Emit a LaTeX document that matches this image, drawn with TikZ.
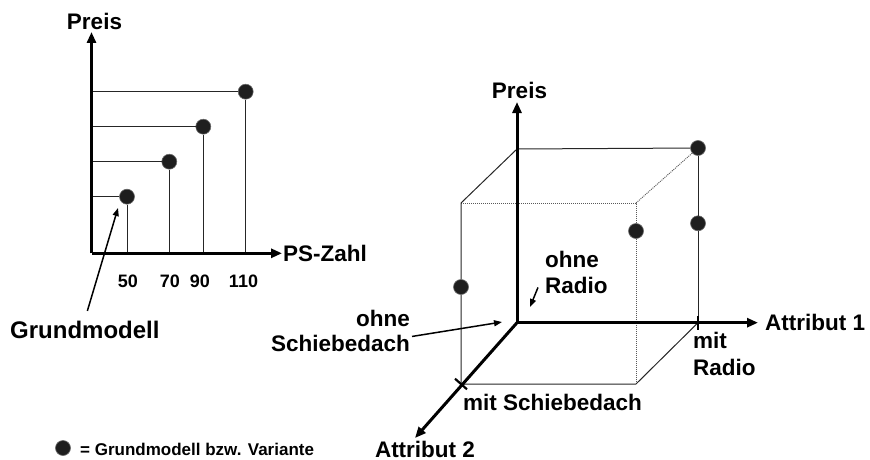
\documentclass[tikz,border=0pt]{standalone}
\usepackage{fontspec}
\setmainfont{Liberation Sans}
\usetikzlibrary{arrows.meta}
\definecolor{dotfill}{HTML}{1E1E1E}
\begin{document}
\begin{tikzpicture}[x=1pt,y=-1pt,
  lbl/.style={font=\fontsize{22.5}{26.5}\selectfont\bfseries, inner sep=0pt},
  ticklbl/.style={font=\fontsize{18}{22}\selectfont\bfseries, inner sep=0pt, anchor=base},
  legendlbl/.style={font=\fontsize{17}{20}\selectfont\bfseries, inner sep=0pt, anchor=base west},
  thinline/.style={line width=1pt, draw=black!85},
  dotline/.style={line width=0.9pt, draw=black!65, dash pattern=on 1pt off 1pt},
  axisline/.style={line width=3pt, draw=black, -{Triangle[length=11pt,width=9pt]}},
  tickmark/.style={line width=2.2pt},
  annot/.style={line width=1.5pt, -{Triangle[length=8pt,width=6pt]}},
  dot/.style={circle, fill=dotfill, draw=black!60, line width=0.6pt, minimum size=15pt, inner sep=0pt},
]
\useasboundingbox (0,0) rectangle (870,460);

% ---------------- left chart ----------------
\coordinate (O1) at (91.5,253.3);
\coordinate (Y1) at (91.5,32);
\coordinate (X1) at (282,253.3);
\node[dot] (p50) at (127,196.7) {};
\node[dot] (p70) at (169.3,161.7) {};
\node[dot] (p90) at (203.3,126.7) {};
\node[dot] (p110) at (245.7,91.7) {};
\foreach \p in {p50,p70,p90,p110}{
  \draw[thinline] (\p -| O1) -- (\p);
  \draw[thinline] (\p) -- (\p |- O1);
}
\draw[axisline] (O1) -- (Y1);
\draw[axisline] (O1) -- (X1);

\node[lbl, anchor=base] (preisL) at (94.5,29.5) {Preis};
\node[lbl, anchor=base west] (pszahl) at (283,261) {PS-Zahl};
\node[ticklbl] (t50) at (128,287) {50};
\node[ticklbl] (t70) at (170,287) {70};
\node[ticklbl] (t90) at (200,287) {90};
\node[ticklbl] (t110) at (243.5,287) {110};
\node[lbl, font=\fontsize{24}{28}\selectfont\bfseries, anchor=base west] (gm) at (10,338) {Grundmodell};
\coordinate (gmtip) at (118,208);
\draw[annot] ([shift={(2.5,-9.5)}]gm.north) -- (gmtip);

% ---------------- cube ----------------
\coordinate (O2) at (517,322.7);
\coordinate (P2) at (517,102);
\coordinate (A1) at (758,322.7);
\coordinate (A2) at (415,438);
\coordinate (BTL) at (517,149);
\coordinate (FTL) at (461,203);
\coordinate (FTR) at (636,203);
\coordinate (FBL) at (461,384);
\coordinate (FBR) at (636,384);
\coordinate (BBR) at (698,322.7);
\node[dot] (dTR) at (698,148) {};
\node[dot] (dR2) at (698,223.3) {};
\node[dot] (dF) at (636,231) {};
\node[dot] (dL) at (461,287) {};

\draw[dotline] (FTL) -- (FTR) -- (dF);
\draw[dotline] (dF) -- (FBR);
\draw[dotline] (dTR) -- (FTR);
\draw[thinline] (BTL) -- (dTR);
\draw[thinline] (BTL) -- (FTL) -- (dL);
\draw[thinline] (dL) -- (FBL) -- (FBR) -- (BBR);
\draw[thinline] (dTR) -- (dR2);
\draw[thinline] (dR2) -- (BBR);

\draw[axisline] (O2) -- (P2);
\draw[axisline] (O2) -- (A1);
\draw[axisline] (O2) -- (A2);
\draw[tickmark] ([shift={(0,-7)}]BBR) -- ([shift={(0,7)}]BBR);
\draw[tickmark] ([shift={(-6,-5.3)}]FBL) -- ([shift={(6,5.3)}]FBL);

\node[lbl, anchor=base] (preisR) at (519.5,98.5) {Preis};
\node[lbl, anchor=base west] (att1) at (765,330) {Attribut 1};
\node[lbl, anchor=base] (att2) at (425,457) {Attribut 2};
\node[lbl, anchor=base west] (mitS) at (463,410) {mit Schiebedach};
\node[lbl, anchor=base west, align=left, font=\fontsize{22.5}{27}\selectfont\bfseries] (mitR) at (693,375) {mit\\Radio};
\node[lbl, anchor=base west, align=left] (ohneR) at (545,293.5) {ohne\\Radio};
\node[lbl, anchor=base east, align=right, font=\fontsize{22.5}{25}\selectfont\bfseries] (ohneS) at (410,351) {ohne\\Schiebedach};

\coordinate (ohneStip) at (502,322);
\draw[annot] ([shift={(2,6)}]ohneS.east) -- (ohneStip);
\coordinate (ohneRtip) at (530,307);
\draw[annot] ([shift={(-7,-6.5)}]ohneR.south west) -- (ohneRtip);

% ---------------- legend ----------------
\node[dot] (legdot) at (63,448) {};
\node[legendlbl] (legtxt) at (80,455) {= Grundmodell bzw. Variante};
\end{tikzpicture}
\end{document}
